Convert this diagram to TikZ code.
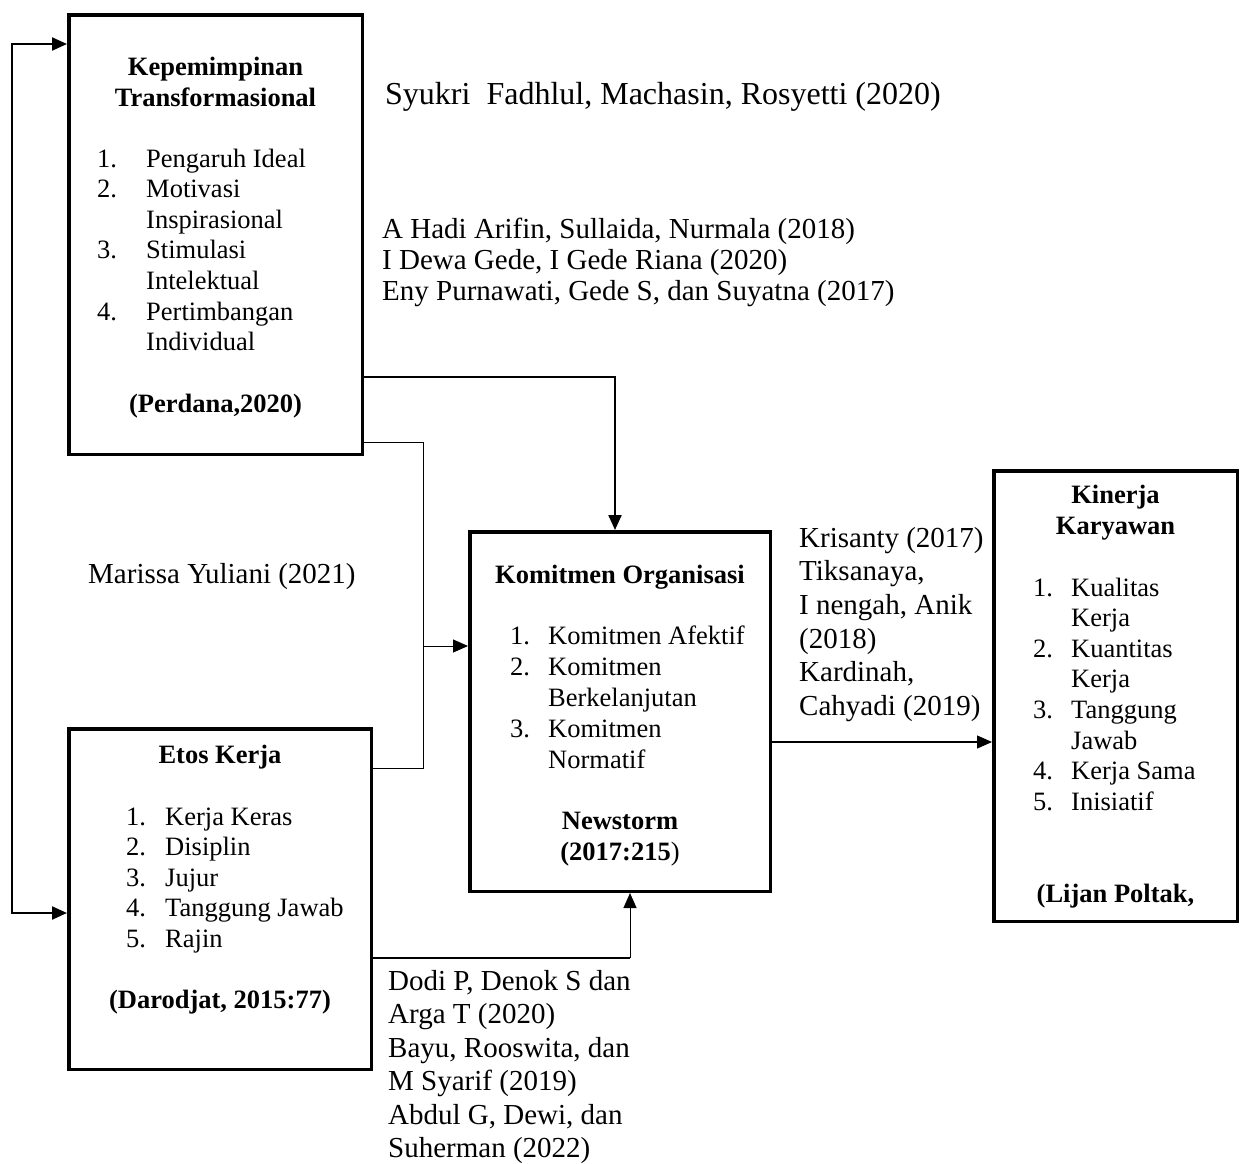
\documentclass[tikz,border=0pt]{standalone}
\usepackage{fontspec}
\setmainfont{Liberation Serif}
\usetikzlibrary{arrows.meta}
\tikzset{
  box/.style={draw, line width=3.5pt, inner sep=0pt, anchor=north west},
  btxt/.style={inner sep=0pt, font=\fontsize{26.5}{30.6}\selectfont, anchor=base west},
  bhead/.style={inner sep=0pt, font=\fontsize{26.5}{30.6}\selectfont\bfseries, anchor=base},
  cite/.style={inner sep=0pt, font=\fontsize{29}{33.5}\selectfont, anchor=base west},
  tip/.tip={Triangle[length=15pt,width=13pt]},
  heavy/.style={line width=2.2pt},
  light/.style={line width=1pt},
}
\begin{document}
\begin{tikzpicture}[x=1pt,y=-1pt]
\useasboundingbox (0,0) rectangle (1242,1163);

% boxes
\node[box, minimum width=293.5pt, minimum height=439.5pt] (kt) at (67,13) {};
\node[box, minimum width=302.5pt, minimum height=340.5pt] (et) at (67,727) {};
\node[box, minimum width=300.5pt, minimum height=359.5pt] (km) at (468,530) {};
\node[box, minimum width=243.5pt, minimum height=450.5pt] (kk) at (992,469) {};

% Kepemimpinan Transformasional
\node[bhead] (kth1) at (215.5,75) {Kepemimpinan};
\node[bhead] (kth2) at (215.5,106) {Transformasional};
\node[btxt] (ktn1) at (97,167) {1.};
\node[btxt] (kti1) at (146,167) {Pengaruh Ideal};
\node[btxt] (ktn2) at (97,197.6) {2.};
\node[btxt] (kti2) at (146,197.6) {Motivasi};
\node[btxt] (kti2b) at (146,228.2) {Inspirasional};
\node[btxt] (ktn3) at (97,258.8) {3.};
\node[btxt] (kti3) at (146,258.8) {Stimulasi};
\node[btxt] (kti3b) at (146,289.4) {Intelektual};
\node[btxt] (ktn4) at (97,320) {4.};
\node[btxt] (kti4) at (146,320) {Pertimbangan};
\node[btxt] (kti4b) at (146,350.6) {Individual};
\node[bhead] (ktsrc) at (215.5,412) {(Perdana,2020)};

% Etos Kerja
\node[bhead] (eth) at (220,763) {Etos Kerja};
\node[btxt] (etn1) at (126,825) {1.};
\node[btxt] (eti1) at (165,825) {Kerja Keras};
\node[btxt] (etn2) at (126,855.5) {2.};
\node[btxt] (eti2) at (165,855.5) {Disiplin};
\node[btxt] (etn3) at (126,886) {3.};
\node[btxt] (eti3) at (165,886) {Jujur};
\node[btxt] (etn4) at (126,916.5) {4.};
\node[btxt] (eti4) at (165,916.5) {Tanggung Jawab};
\node[btxt] (etn5) at (126,947) {5.};
\node[btxt] (eti5) at (165,947) {Rajin};
\node[bhead] (etsrc) at (220,1008) {(Darodjat, 2015:77)};

% Komitmen Organisasi
\node[bhead] (kmh) at (620,583) {Komitmen Organisasi};
\node[btxt] (kmn1) at (510,644) {1.};
\node[btxt] (kmi1) at (548,644) {Komitmen Afektif};
\node[btxt] (kmn2) at (510,675) {2.};
\node[btxt] (kmi2) at (548,675) {Komitmen};
\node[btxt] (kmi2b) at (548,706) {Berkelanjutan};
\node[btxt] (kmn3) at (510,737) {3.};
\node[btxt] (kmi3) at (548,737) {Komitmen};
\node[btxt] (kmi3b) at (548,768) {Normatif};
\node[bhead] (kmsrc1) at (620,829) {Newstorm};
\node[bhead] (kmsrc2) at (620,860) {(2017:215\mdseries)};

% Kinerja Karyawan
\node[bhead] (kkh1) at (1115.5,503) {Kinerja};
\node[bhead] (kkh2) at (1115.5,534) {Karyawan};
\node[btxt] (kkn1) at (1033,596) {1.};
\node[btxt] (kki1) at (1071,596) {Kualitas};
\node[btxt] (kki1b) at (1071,626.6) {Kerja};
\node[btxt] (kkn2) at (1033,657.2) {2.};
\node[btxt] (kki2) at (1071,657.2) {Kuantitas};
\node[btxt] (kki2b) at (1071,687.8) {Kerja};
\node[btxt] (kkn3) at (1033,718.4) {3.};
\node[btxt] (kki3) at (1071,718.4) {Tanggung};
\node[btxt] (kki3b) at (1071,749) {Jawab};
\node[btxt] (kkn4) at (1033,779.6) {4.};
\node[btxt] (kki4) at (1071,779.6) {Kerja Sama};
\node[btxt] (kkn5) at (1033,810.2) {5.};
\node[btxt] (kki5) at (1071,810.2) {Inisiatif};
\node[bhead] (kksrc) at (1115.5,902) {(Lijan Poltak,};

% citations
\node[cite, font=\fontsize{32}{36}\selectfont] (c1) at (385,104) {Syukri\ \ Fadhlul, Machasin, Rosyetti (2020)};
\node[cite] (c2a) at (382,238) {A Hadi Arifin, Sullaida, Nurmala (2018)};
\node[cite] (c2b) at (382,269) {I Dewa Gede, I Gede Riana (2020)};
\node[cite] (c2c) at (382,300) {Eny Purnawati, Gede S, dan Suyatna (2017)};
\node[cite] (c3) at (88,583) {Marissa Yuliani (2021)};
\node[cite] (c4a) at (799,547) {Krisanty (2017)};
\node[cite] (c4b) at (799,580.5) {Tiksanaya,};
\node[cite] (c4c) at (799,614) {I nengah, Anik};
\node[cite] (c4d) at (799,648) {(2018)};
\node[cite] (c4e) at (799,681.5) {Kardinah,};
\node[cite] (c4f) at (799,715) {Cahyadi (2019)};
\node[cite] (c5a) at (388,990) {Dodi P, Denok S dan};
\node[cite] (c5b) at (388,1023.5) {Arga T (2020)};
\node[cite] (c5c) at (388,1057) {Bayu, Rooswita, dan};
\node[cite] (c5d) at (388,1090.5) {M Syarif (2019)};
\node[cite] (c5e) at (388,1124) {Abdul G, Dewi, dan};
\node[cite] (c5f) at (388,1157) {Suherman (2022)};

% connectors
\coordinate (lt) at (12,44);
\coordinate (lb) at (12,913);
\draw[heavy, {tip}-{tip}] (lt -| kt.west) -- (lt) -- (lb) -- (lb -| et.west);

\coordinate (ta) at (615,377);
\draw[heavy, -{tip}] (ta -| kt.east) -- (ta) -- (ta |- km.north);

\coordinate (tj) at (423,442);
\coordinate (tk) at (423,768);
\coordinate (tm) at (423,646);
\draw[light] (tj -| kt.east) -- (tj) -- (tk) -- (tk -| et.east);
\draw[light, -{tip}] (tm) -- (tm -| km.west);

\coordinate (tb) at (772,742);
\draw[line width=1.2pt, -{tip}] (tb -| km.east) -- (tb -| kk.west);

\coordinate (tc) at (630,958);
\draw[heavy] (tc -| et.east) -- (tc);
\draw[light, -{tip}] (tc) -- (tc |- km.south);
\end{tikzpicture}
\end{document}
